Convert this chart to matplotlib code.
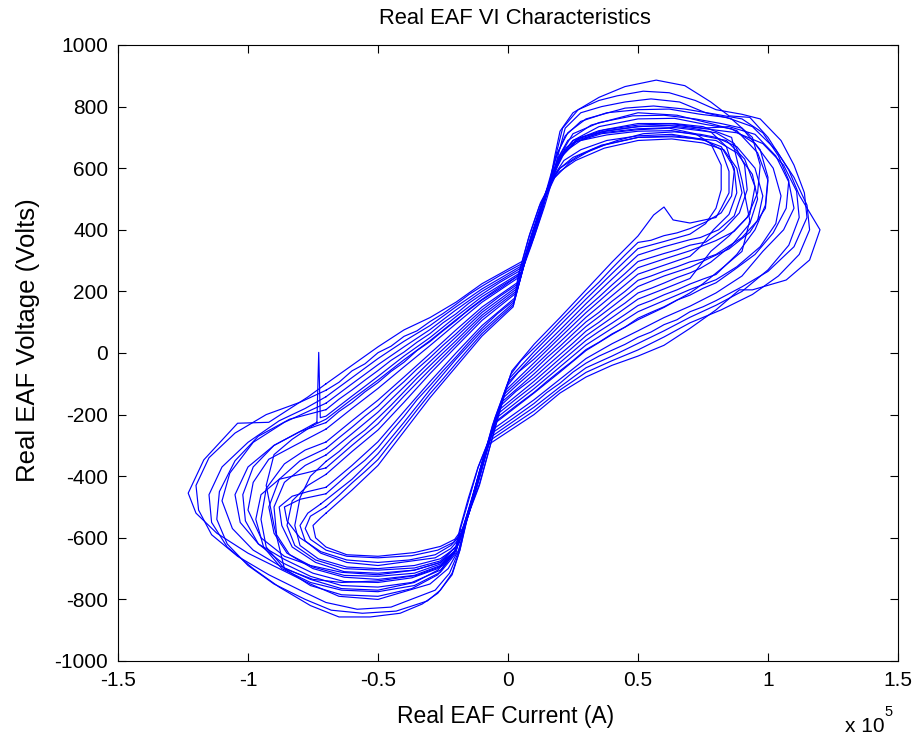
import numpy as np
import matplotlib
matplotlib.use("Agg")
import matplotlib.pyplot as plt
from matplotlib.ticker import FuncFormatter

plt.rcParams['font.family'] = ['Liberation Sans', 'DejaVu Sans']
plt.rcParams['axes.unicode_minus'] = False

# Arc V-I cycles: (current in 1e5 A, voltage in V)
loop_a = [(-0.7, -100), (-0.6, -40), (-0.5, 20), (-0.4, 75), (-0.3, 115), (-0.2, 165), (-0.1, 225), (0.06, 300),
          (0.09, 385), (0.125, 475), (0.165, 565), (0.19, 630),
          (0.23, 690), (0.32, 740), (0.5, 780), (0.65, 772), (0.78, 745),
          (0.88, 722), (0.96, 650), (1.0, 560), (0.99, 470), (0.93, 392), (0.85, 338),
          (0.7, 278), (0.6, 250), (0.5, 216), (0.4, 150), (0.3, 86), (0.2, 10), (0.1, -68), (-0.025, -160),
          (-0.09, -330), (-0.125, -440), (-0.16, -548), (-0.19, -640),
          (-0.23, -700), (-0.3, -750), (-0.5, -800), (-0.65, -790), (-0.76, -750),
          (-0.88, -700), (-1.0, -650), (-1.12, -585), (-1.2, -520), (-1.23, -455), (-1.17, -347),
          (-1.04, -228), (-0.92, -225), (-0.77, -143)]

loop_b = [(-0.7, -247), (-0.6, -180), (-0.5, -115), (-0.4, -45), (-0.3, 24), (-0.2, 95), (-0.1, 165), (0.046, 248),
          (0.09, 350), (0.13, 455), (0.16, 550), (0.18, 640),
          (0.2, 720), (0.25, 780), (0.35, 830), (0.45, 865), (0.57, 886), (0.68, 868), (0.78, 815),
          (0.85, 770), (0.93, 765), (1.0, 700), (1.08, 594), (1.12, 513), (1.2, 400), (1.16, 302),
          (1.07, 237), (0.94, 205),
          (0.89, 205), (0.8, 140), (0.7, 80), (0.6, 25), (0.5, -10), (0.4, -40), (0.3, -78), (0.2, -130),
          (0.1, -200), (-0.08, -300),
          (-0.11, -385), (-0.14, -480), (-0.17, -565), (-0.2, -640),
          (-0.26, -680), (-0.36, -705), (-0.5, -720), (-0.64, -712), (-0.76, -690),
          (-0.86, -660), (-0.95, -600), (-1.0, -510), (-0.98, -420), (-0.92, -345), (-0.82, -300)]

loop_c = [(-0.72, -490), (-0.6, -410), (-0.5, -327), (-0.4, -225), (-0.3, -119), (-0.2, -20), (-0.1, 72), (0.024, 165),
          (0.06, 280), (0.1, 395), (0.14, 495), (0.17, 565),
          (0.2, 600), (0.25, 635), (0.36, 675), (0.5, 700), (0.64, 705), (0.76, 690),
          (0.82, 660), (0.85, 590), (0.85, 520), (0.82, 470), (0.8, 440),
          (0.7, 422), (0.635, 432), (0.6, 474), (0.56, 448), (0.5, 380), (0.4, 295), (0.3, 205), (0.2, 115),
          (0.1, 28), (0.015, -58),
          (-0.02, -150), (-0.068, -300), (-0.11, -430), (-0.155, -530), (-0.185, -600),
          (-0.22, -635), (-0.28, -665), (-0.5, -690), (-0.62, -680), (-0.72, -650),
          (-0.78, -610), (-0.8, -560), (-0.77, -520)]

loop_d = [(-0.7, -163), (-0.6, -100), (-0.5, -38), (-0.4, 20), (-0.3, 76), (-0.2, 140), (-0.1, 200), (0.054, 278),
          (0.09, 372), (0.13, 470), (0.17, 568), (0.21, 645),
          (0.27, 695), (0.37, 725), (0.5, 745), (0.63, 745), (0.75, 730),
          (0.85, 735), (0.95, 710), (1.03, 640), (1.08, 555), (1.1, 470), (1.06, 400), (0.98, 330),
          (0.9, 250), (0.8, 195),
          (0.7, 152), (0.6, 115), (0.5, 72), (0.4, 30), (0.3, -18), (0.2, -85), (0.1, -152), (-0.06, -249),
          (-0.1, -355), (-0.135, -460), (-0.17, -560), (-0.205, -645),
          (-0.27, -705), (-0.36, -745), (-0.5, -770), (-0.64, -765), (-0.76, -735),
          (-0.88, -690), (-0.98, -640), (-1.06, -570), (-1.1, -480), (-1.07, -390), (-0.98, -290),
          (-0.86, -225)]

loop_e = [(-0.7, -394), (-0.6, -320), (-0.5, -250), (-0.4, -160), (-0.3, -67), (-0.2, 20), (-0.1, 106), (0.032, 195),
          (0.07, 310), (0.11, 420), (0.15, 520), (0.19, 605), (0.22, 655),
          (0.28, 690), (0.38, 708), (0.5, 720), (0.63, 722), (0.75, 705),
          (0.84, 690), (0.91, 630), (0.95, 540), (0.93, 450), (0.87, 395), (0.8, 365),
          (0.7, 332), (0.6, 305), (0.5, 277), (0.4, 205), (0.3, 131), (0.2, 50), (0.1, -32), (-0.01, -122),
          (-0.07, -270), (-0.11, -400), (-0.15, -520), (-0.19, -620),
          (-0.26, -675), (-0.36, -698), (-0.5, -705), (-0.63, -700), (-0.74, -672),
          (-0.82, -625), (-0.85, -560), (-0.83, -480), (-0.77, -430)]

loop_f = [(-0.735, -225), (-0.728, 2), (-0.722, -210), (-0.7, -205), (-0.6, -140), (-0.5, -76), (-0.4, -10),
          (-0.3, 50), (-0.2, 118), (-0.1, 183), (0.05, 262),
          (0.085, 360), (0.125, 465), (0.165, 562), (0.2, 635),
          (0.26, 685), (0.36, 712), (0.5, 725), (0.62, 730), (0.72, 712),
          (0.78, 680), (0.82, 610), (0.82, 530), (0.8, 470), (0.76, 420),
          (0.7, 386), (0.6, 362), (0.5, 339), (0.4, 258), (0.3, 175), (0.2, 90), (0.1, 4), (0.005, -83),
          (-0.05, -210), (-0.1, -355), (-0.14, -480), (-0.175, -580), (-0.205, -645),
          (-0.27, -700), (-0.37, -730), (-0.5, -745), (-0.63, -742), (-0.75, -715),
          (-0.86, -670), (-0.96, -620), (-1.03, -550), (-1.05, -460), (-1.0, -370), (-0.9, -300),
          (-0.8, -255)]

loop_g = [(-0.7, -331), (-0.6, -262), (-0.5, -192), (-0.4, -110), (-0.3, -28), (-0.2, 52), (-0.1, 132), (0.038, 218),
          (0.075, 330), (0.115, 440), (0.155, 540), (0.195, 625),
          (0.25, 690), (0.35, 735), (0.5, 760), (0.64, 762), (0.76, 742),
          (0.86, 728), (0.95, 680), (1.02, 600), (1.05, 510), (1.03, 420), (0.97, 345), (0.88, 280),
          (0.8, 238),
          (0.7, 206), (0.6, 170), (0.5, 134), (0.4, 80), (0.3, 26), (0.2, -45), (0.1, -116), (-0.045, -211),
          (-0.09, -330), (-0.13, -450), (-0.165, -555), (-0.2, -640),
          (-0.26, -690), (-0.36, -722), (-0.5, -735), (-0.63, -728), (-0.75, -700),
          (-0.84, -655), (-0.89, -590), (-0.9, -500), (-0.86, -420), (-0.78, -365)]

loop_h = [(-0.7, -520), (-0.6, -445), (-0.5, -365), (-0.4, -255), (-0.3, -145), (-0.2, -45), (-0.1, 55), (0.02, 150),
          (0.04, 255), (0.078, 370), (0.12, 475), (0.17, 560),
          (0.2, 590), (0.26, 625), (0.37, 665), (0.5, 690), (0.63, 695), (0.75, 682),
          (0.83, 660), (0.88, 600), (0.9, 520), (0.87, 445), (0.81, 400), (0.74, 375),
          (0.7, 368), (0.6, 345), (0.5, 318), (0.4, 240), (0.3, 160), (0.2, 75), (0.1, -8), (0.0, -96),
          (-0.06, -235), (-0.1, -360), (-0.14, -480), (-0.175, -570),
          (-0.205, -605), (-0.26, -628), (-0.36, -648), (-0.5, -660), (-0.62, -655), (-0.7, -630),
          (-0.74, -600), (-0.75, -560), (-0.72, -535)]

loop_i = [(-0.7, -142), (-0.6, -80), (-0.5, -18), (-0.4, 38), (-0.3, 89), (-0.2, 150), (-0.1, 208), (0.056, 285),
          (0.1, 375), (0.14, 475), (0.17, 560), (0.195, 650),
          (0.22, 730), (0.28, 780), (0.36, 800), (0.45, 815), (0.55, 825), (0.66, 815), (0.76, 780),
          (0.86, 760), (0.94, 700), (0.97, 610), (0.96, 520), (0.92, 440), (0.85, 380), (0.78, 330),
          (0.7, 242), (0.6, 208), (0.5, 175), (0.4, 115), (0.3, 56), (0.2, -18), (0.1, -92), (-0.035, -185),
          (-0.085, -320), (-0.125, -440), (-0.16, -545), (-0.185, -640),
          (-0.215, -720), (-0.27, -780), (-0.33, -815), (-0.415, -845), (-0.53, -857), (-0.65, -857),
          (-0.76, -820),
          (-0.88, -760), (-0.98, -700), (-1.08, -630), (-1.14, -550), (-1.15, -460), (-1.1, -370),
          (-1.0, -290), (-0.88, -220), (-0.78, -180)]

loop_j = [(-0.7, -289), (-0.6, -220), (-0.5, -153), (-0.4, -78), (-0.3, -2), (-0.2, 75), (-0.1, 149), (0.042, 232),
          (0.08, 340), (0.12, 450), (0.16, 550), (0.2, 632),
          (0.26, 685), (0.36, 718), (0.5, 735), (0.64, 740), (0.76, 728),
          (0.88, 715), (0.98, 680), (1.06, 610), (1.11, 525), (1.12, 440), (1.08, 350), (1.0, 270),
          (0.9, 200), (0.8, 155),
          (0.7, 116), (0.6, 72), (0.5, 31), (0.4, -10), (0.3, -48), (0.2, -110), (0.1, -176), (-0.07, -275),
          (-0.115, -370), (-0.152, -470), (-0.185, -570), (-0.205, -645),
          (-0.27, -720), (-0.37, -765), (-0.5, -790), (-0.64, -785), (-0.76, -755),
          (-0.86, -700), (-0.93, -630), (-0.95, -540), (-0.93, -440), (-0.86, -360), (-0.78, -315)]

loop_k = [(-0.7, -436), (-0.6, -365), (-0.5, -288), (-0.4, -190), (-0.3, -93), (-0.2, 0), (-0.1, 89), (0.028, 180),
          (0.065, 295), (0.105, 410), (0.145, 510), (0.18, 580),
          (0.215, 625), (0.28, 660), (0.38, 690), (0.5, 705), (0.63, 710), (0.74, 695),
          (0.82, 670), (0.87, 600), (0.88, 520), (0.85, 450), (0.79, 400), (0.74, 345),
          (0.7, 314), (0.6, 285), (0.5, 256), (0.4, 186), (0.3, 116), (0.2, 36), (0.1, -44), (-0.015, -134),
          (-0.07, -280), (-0.11, -405), (-0.15, -520), (-0.19, -620),
          (-0.26, -680), (-0.36, -705), (-0.5, -715), (-0.63, -710), (-0.74, -680),
          (-0.83, -630), (-0.87, -560), (-0.88, -500), (-0.83, -465), (-0.77, -450)]

loop_l = [(-0.7, -121), (-0.65, -95), (-0.6, -58), (-0.55, -35), (-0.5, 1), (-0.45, 22), (-0.4, 54), (-0.35, 72),
          (-0.3, 102), (-0.25, 128), (-0.2, 158), (-0.15, 190), (-0.1, 217), (-0.03, 252), (0.058, 292),
          (0.09, 380), (0.13, 478), (0.165, 570), (0.19, 650),
          (0.23, 715), (0.3, 760), (0.45, 795), (0.56, 802), (0.68, 792), (0.8, 775),
          (0.9, 760), (0.98, 715), (1.04, 640), (1.08, 560), (1.07, 470), (1.02, 390), (0.95, 320),
          (0.87, 270), (0.8, 228),
          (0.75, 210), (0.7, 188), (0.65, 172), (0.6, 150), (0.55, 132), (0.5, 113), (0.45, 84), (0.4, 62),
          (0.35, 35), (0.3, 11), (0.25, -25), (0.2, -58), (0.15, -92), (0.1, -128), (0.03, -172), (-0.05, -224),
          (-0.09, -335), (-0.13, -448), (-0.165, -560), (-0.19, -645),
          (-0.225, -715), (-0.28, -770), (-0.45, -825), (-0.58, -832), (-0.7, -810), (-0.8, -770),
          (-0.92, -720), (-1.04, -660), (-1.14, -590), (-1.19, -510), (-1.2, -430), (-1.15, -340),
          (-1.05, -260), (-0.93, -200), (-0.8, -160)]

loop_m = [(-0.7, -352), (-0.65, -320), (-0.6, -282), (-0.55, -250), (-0.5, -211), (-0.45, -170), (-0.4, -126),
          (-0.35, -82), (-0.3, -41), (-0.25, 0), (-0.2, 40), (-0.15, 82), (-0.1, 123), (-0.03, 168), (0.036, 210),
          (0.07, 318), (0.11, 428), (0.15, 528), (0.18, 595), (0.22, 665),
          (0.28, 700), (0.38, 722), (0.5, 735), (0.62, 738), (0.72, 728),
          (0.78, 718), (0.84, 670), (0.87, 590), (0.86, 510), (0.82, 455), (0.76, 425),
          (0.7, 404), (0.65, 390), (0.6, 381), (0.55, 366), (0.5, 359), (0.45, 318), (0.4, 275), (0.35, 230),
          (0.3, 190), (0.25, 146), (0.2, 103), (0.15, 58), (0.1, 16), (0.05, -25), (0.01, -70),
          (-0.03, -185), (-0.07, -305), (-0.11, -425), (-0.16, -540), (-0.2, -632),
          (-0.26, -668), (-0.36, -690), (-0.5, -700), (-0.62, -695), (-0.73, -668),
          (-0.8, -625), (-0.82, -560), (-0.8, -470), (-0.76, -400)]

loop_n = [(-0.7, -226), (-0.65, -190), (-0.6, -161), (-0.55, -126), (-0.5, -96), (-0.45, -60), (-0.4, -30),
          (-0.35, 8), (-0.3, 37), (-0.25, 72), (-0.2, 105), (-0.15, 142), (-0.1, 174), (-0.03, 215), (0.048, 255),
          (0.09, 355), (0.13, 462), (0.16, 555), (0.185, 645),
          (0.21, 730), (0.27, 790), (0.35, 820), (0.42, 835), (0.52, 850), (0.62, 845), (0.72, 820), (0.8, 790),
          (0.9, 775), (0.97, 760), (1.05, 690), (1.1, 610), (1.14, 520), (1.15, 440), (1.1, 345), (1.0, 265),
          (0.9, 215), (0.8, 170),
          (0.75, 150), (0.7, 134), (0.65, 108), (0.6, 92), (0.55, 68), (0.5, 51), (0.45, 28), (0.4, 9),
          (0.35, -10), (0.3, -33), (0.25, -62), (0.2, -98), (0.15, -128), (0.1, -164), (0.02, -212),
          (-0.065, -262),
          (-0.1, -360), (-0.135, -462), (-0.17, -562), (-0.205, -650),
          (-0.26, -705), (-0.37, -745), (-0.5, -760), (-0.64, -755), (-0.76, -725),
          (-0.87, -680), (-0.96, -620), (-1.01, -545), (-1.02, -460), (-0.98, -370), (-0.9, -300),
          (-0.8, -255)]

loop_o = [(-0.7, -457), (-0.65, -420), (-0.6, -382), (-0.55, -348), (-0.5, -307), (-0.45, -255), (-0.4, -206),
          (-0.35, -152), (-0.3, -106), (-0.25, -58), (-0.2, -13), (-0.15, 35), (-0.1, 80), (-0.04, 128),
          (0.026, 172),
          (0.06, 282), (0.1, 398), (0.14, 498), (0.18, 570),
          (0.24, 620), (0.32, 660), (0.42, 690), (0.52, 712), (0.64, 718), (0.74, 710),
          (0.8, 700), (0.88, 670), (0.95, 600), (0.98, 510), (0.96, 430), (0.9, 375), (0.8, 320),
          (0.75, 305), (0.7, 296), (0.65, 280), (0.6, 266), (0.55, 250), (0.5, 236), (0.45, 200), (0.4, 168),
          (0.35, 132), (0.3, 101), (0.25, 62), (0.2, 22), (0.15, -15), (0.1, -56), (0.04, -100), (-0.02, -147),
          (-0.07, -285), (-0.11, -405), (-0.15, -520), (-0.18, -590),
          (-0.22, -625), (-0.28, -655), (-0.38, -672), (-0.5, -680), (-0.62, -672), (-0.72, -645),
          (-0.8, -600), (-0.85, -545), (-0.86, -500), (-0.8, -475)]

loop_p = [(-0.7, -184), (-0.65, -150), (-0.6, -120), (-0.55, -88), (-0.5, -57), (-0.45, -24), (-0.4, 3),
          (-0.35, 35), (-0.3, 63), (-0.25, 98), (-0.2, 127), (-0.15, 162), (-0.1, 191), (-0.03, 230), (0.052, 270),
          (0.085, 365), (0.125, 470), (0.165, 568), (0.2, 642),
          (0.25, 712), (0.35, 748), (0.48, 770), (0.6, 772), (0.72, 760),
          (0.82, 745), (0.9, 730), (0.97, 660), (1.0, 570), (0.99, 480), (0.95, 400), (0.88, 320), (0.8, 255),
          (0.75, 240), (0.7, 224), (0.65, 205), (0.6, 189), (0.55, 170), (0.5, 154), (0.45, 125), (0.4, 97),
          (0.35, 70), (0.3, 41), (0.25, 5), (0.2, -31), (0.15, -68), (0.1, -104), (0.03, -150), (-0.04, -198),
          (-0.085, -325), (-0.125, -442), (-0.16, -550), (-0.185, -640),
          (-0.215, -715), (-0.26, -770), (-0.31, -805), (-0.43, -838), (-0.56, -845), (-0.68, -835),
          (-0.78, -800),
          (-0.9, -750), (-1.0, -690), (-1.08, -620), (-1.12, -540), (-1.11, -450), (-1.05, -350),
          (-0.96, -270), (-0.84, -215)]

loop_q = [(-0.7, -310), (-0.65, -275), (-0.6, -241), (-0.55, -205), (-0.5, -172), (-0.45, -130), (-0.4, -93),
          (-0.35, -52), (-0.3, -15), (-0.25, 25), (-0.2, 62), (-0.15, 102), (-0.1, 140), (-0.03, 185), (0.04, 225),
          (0.075, 332), (0.115, 442), (0.155, 542), (0.195, 628),
          (0.26, 690), (0.36, 715), (0.5, 728), (0.64, 732), (0.74, 722),
          (0.8, 715), (0.87, 680), (0.91, 610), (0.92, 530), (0.89, 455), (0.83, 400), (0.76, 360),
          (0.7, 350), (0.65, 335), (0.6, 323), (0.55, 310), (0.5, 297), (0.45, 258), (0.4, 221), (0.35, 182),
          (0.3, 145), (0.25, 104), (0.2, 62), (0.15, 20), (0.1, -20), (0.04, -62), (-0.005, -109),
          (-0.05, -225), (-0.09, -340), (-0.13, -455), (-0.165, -558), (-0.2, -640),
          (-0.26, -685), (-0.36, -715), (-0.5, -725), (-0.63, -722), (-0.75, -695),
          (-0.85, -650), (-0.9, -585), (-0.92, -500), (-0.88, -410), (-0.8, -350)]

loop_r = [(-0.7, -499), (-0.65, -462), (-0.6, -422), (-0.55, -385), (-0.5, -346), (-0.45, -292), (-0.4, -239),
          (-0.35, -185), (-0.3, -132), (-0.25, -84), (-0.2, -34), (-0.15, 15), (-0.1, 63), (-0.04, 110),
          (0.022, 157),
          (0.045, 265), (0.083, 385), (0.125, 488), (0.17, 560),
          (0.2, 600), (0.27, 640), (0.37, 675), (0.5, 700), (0.63, 702), (0.74, 695),
          (0.8, 690), (0.88, 650), (0.94, 580), (0.96, 500), (0.93, 420), (0.86, 350), (0.78, 295),
          (0.74, 275), (0.7, 260), (0.65, 245), (0.6, 227), (0.55, 210), (0.5, 195), (0.45, 162), (0.4, 133),
          (0.35, 100), (0.3, 71), (0.25, 32), (0.2, -5), (0.15, -42), (0.1, -80), (0.03, -125), (-0.03, -172),
          (-0.075, -300), (-0.115, -420), (-0.15, -520), (-0.18, -585),
          (-0.21, -615), (-0.27, -640), (-0.37, -658), (-0.5, -665), (-0.62, -660), (-0.7, -640),
          (-0.76, -605), (-0.78, -570), (-0.76, -530)]

loop_s = [(-0.75, -235), (-0.7, -215), (-0.6, -150), (-0.5, -88), (-0.4, -22), (-0.3, 40), (-0.2, 108),
          (-0.1, 172), (-0.02, 215), (0.05, 258),
          (0.085, 360), (0.125, 468), (0.165, 565), (0.2, 640),
          (0.25, 690), (0.35, 722), (0.5, 740), (0.64, 745), (0.75, 735),
          (0.86, 700), (0.9, 560), (0.93, 430), (0.9, 330), (0.83, 280), (0.75, 225),
          (0.7, 195), (0.6, 148), (0.5, 108), (0.4, 60), (0.3, 8), (0.2, -62), (0.1, -130), (-0.05, -228),
          (-0.09, -335), (-0.13, -452), (-0.165, -555), (-0.2, -640),
          (-0.25, -690), (-0.35, -722), (-0.5, -740), (-0.64, -745), (-0.75, -735),
          (-0.86, -700), (-0.9, -560), (-0.93, -430), (-0.9, -330), (-0.83, -280)]

loop_t = [(-0.7, -373), (-0.6, -300), (-0.5, -230), (-0.4, -140), (-0.3, -54), (-0.2, 30), (-0.1, 115),
          (0.034, 202),
          (0.07, 315), (0.11, 430), (0.15, 535), (0.18, 625), (0.22, 705),
          (0.28, 752), (0.38, 780), (0.5, 790), (0.62, 792), (0.74, 775),
          (0.84, 765), (0.94, 735), (1.03, 660), (1.1, 570), (1.15, 480), (1.16, 400), (1.12, 320),
          (1.04, 250), (0.94, 190), (0.82, 140),
          (0.7, 98), (0.6, 52), (0.5, 10), (0.4, -25), (0.3, -63), (0.2, -120), (0.1, -188), (-0.075, -287),
          (-0.115, -372), (-0.15, -474), (-0.182, -568), (-0.2, -650),
          (-0.26, -712), (-0.36, -755), (-0.5, -775), (-0.64, -770), (-0.76, -745),
          (-0.87, -700), (-0.94, -630), (-0.97, -540), (-0.95, -460), (-0.88, -410), (-0.78, -390)]

loops = [loop_a, loop_b, loop_c, loop_d, loop_e, loop_f, loop_g, loop_h, loop_i, loop_j,
         loop_k, loop_l, loop_m, loop_n, loop_o, loop_p, loop_q, loop_r, loop_s, loop_t]

x_ticks = [-1.5, -1, -0.5, 0, 0.5, 1, 1.5]
y_ticks = list(range(-1000, 1001, 200))

W, H = 919, 742
fig = plt.figure(figsize=(W / 100, H / 100), dpi=100)
ax = fig.add_axes([118 / W, (H - 661) / H, 780 / W, 616 / H])

for pts in loops:
    cur = [p[0] * 1e5 for p in pts] + [pts[0][0] * 1e5]
    volt = [p[1] for p in pts] + [pts[0][1]]
    ax.plot(cur, volt, color='#0000ff', linewidth=0.85)

ax.set_xlim(-1.5e5, 1.5e5)
ax.set_ylim(-1000, 1000)
ax.set_xticks([t * 1e5 for t in x_ticks])
ax.set_yticks(y_ticks)
ax.xaxis.set_major_formatter(FuncFormatter(lambda v, _: f"{v / 1e5:g}"))
ax.tick_params(direction='in', length=6, width=0.8, top=True, right=True,
               labelsize=15, pad=7)
for s in ax.spines.values():
    s.set_linewidth(0.8)

fig.text(515 / W, (H - 18) / H, 'Real EAF VI Characteristics', ha='center', va='center', fontsize=15.8)
fig.text(506 / W, (H - 716) / H, 'Real EAF Current (A)', ha='center', va='center', fontsize=16.5)
fig.text(28 / W, (H - 340) / H, 'Real EAF Voltage (Volts)', ha='center', va='center',
         rotation=90, fontsize=18.5)
fig.text(845 / W, (H - 732) / H, 'x 10', ha='left', va='baseline', fontsize=15)
fig.text(884 / W, (H - 716) / H, '5', ha='left', va='baseline', fontsize=10.5)

fig.savefig('out.png', dpi=100)
